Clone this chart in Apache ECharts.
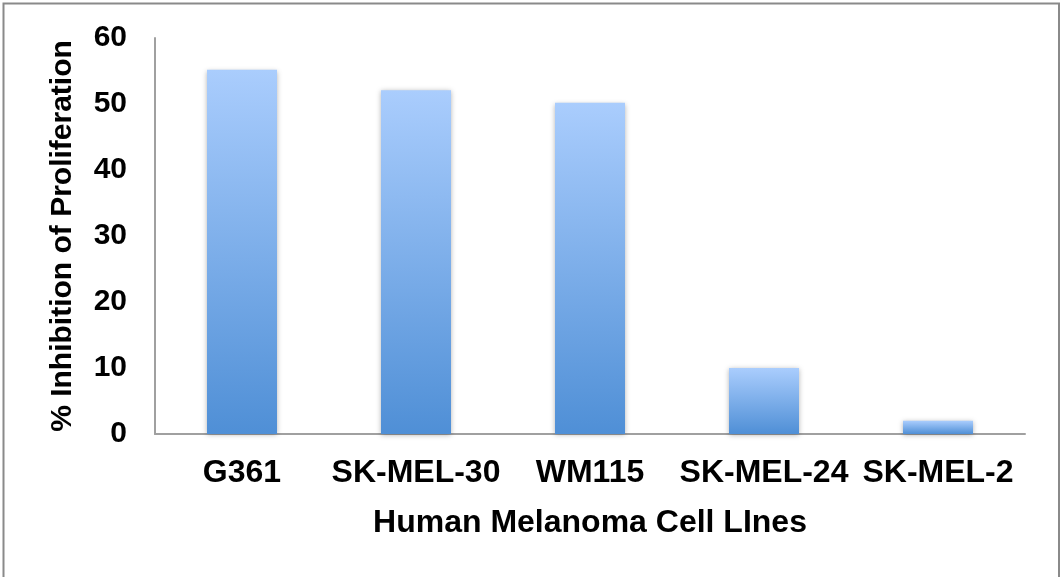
<!DOCTYPE html>
<html>
<head>
<meta charset="utf-8">
<style>
  html, body { margin: 0; padding: 0; background: #ffffff; }
  #chart { width: 1062px; height: 577px; }
</style>
<script src="https://cdn.jsdelivr.net/npm/echarts@6/dist/echarts.min.js"></script>
</head>
<body>
<div id="chart"></div>
<script>
// Cell lines and their % inhibition of proliferation
const cellLines = ['G361', 'SK-MEL-30', 'WM115', 'SK-MEL-24', 'SK-MEL-2'];
const inhibition = [55.2, 52.1, 50.2, 10.0, 2.0];
const yTicks = [0, 10, 20, 30, 40, 50, 60];

const FONT = '"Liberation Sans", Arial, sans-serif';
const chart = echarts.init(document.getElementById('chart'), null, { renderer: 'canvas' });

chart.setOption({
  backgroundColor: '#ffffff',
  animation: false,
  graphic: [{
    type: 'rect',
    shape: { x: 3.5, y: 3.5, width: 1055.5, height: 580 },
    style: { fill: 'none', stroke: '#8a8a8a', lineWidth: 2 },
    silent: true
  }],
  grid: { left: 155, right: 37, top: 38, bottom: 143, containLabel: false },
  xAxis: {
    type: 'category',
    data: cellLines,
    name: 'Human Melanoma Cell LInes',
    nameLocation: 'middle',
    nameGap: 73,
    nameTextStyle: { fontFamily: FONT, fontWeight: 'bold', fontSize: 32, color: '#000' },
    axisLine: { lineStyle: { color: '#a0a0a0', width: 2 } },
    axisTick: { show: false },
    axisLabel: { fontFamily: FONT, fontWeight: 'bold', fontSize: 32, color: '#000', margin: 23, interval: 0 }
  },
  yAxis: {
    type: 'value',
    min: yTicks[0],
    max: yTicks[yTicks.length - 1],
    interval: yTicks[1] - yTicks[0],
    name: '% Inhibition of Proliferation',
    nameLocation: 'middle',
    nameGap: 77,
    nameTextStyle: { fontFamily: FONT, fontWeight: 'bold', fontSize: 30, color: '#000' },
    axisLine: { show: true, lineStyle: { color: '#a0a0a0', width: 2 } },
    axisTick: { show: false },
    splitLine: { show: false },
    axisLabel: { fontFamily: FONT, fontWeight: 'bold', fontSize: 30, color: '#000', margin: 28 }
  },
  series: [{
    type: 'bar',
    data: inhibition,
    barWidth: 70,
    itemStyle: {
      color: new echarts.graphic.LinearGradient(0, 0, 0, 1, [
        { offset: 0, color: '#aacdfd' },
        { offset: 1, color: '#4f8fd6' }
      ]),
      shadowColor: 'rgba(0,0,0,0.3)',
      shadowBlur: 5,
      shadowOffsetY: 1
    }
  }]
});
</script>
</body>
</html>
